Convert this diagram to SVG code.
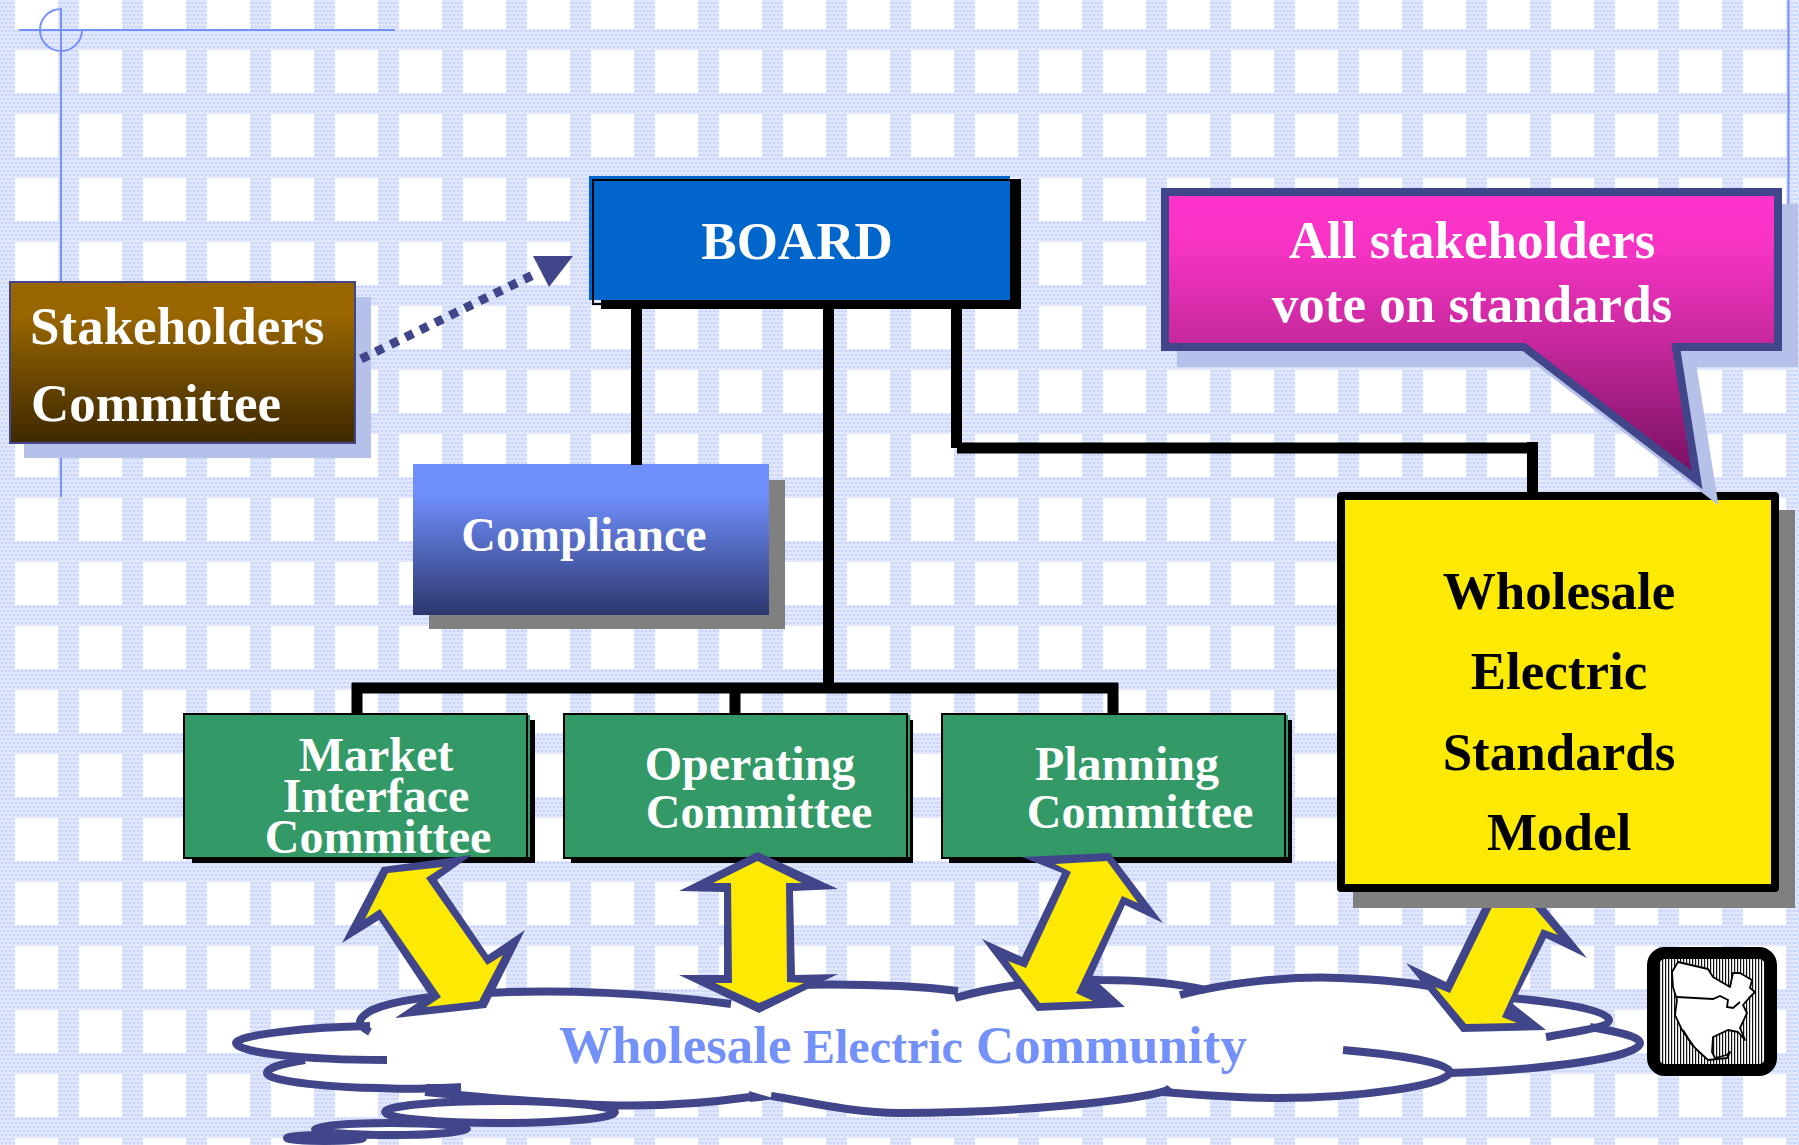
<svg xmlns="http://www.w3.org/2000/svg" width="1799" height="1145" viewBox="0 0 1799 1145">
<style>
text{font-family:"Liberation Serif","Times New Roman",serif;font-weight:bold}
.w{fill:#fff;font-size:53px}
.g{fill:#fff;font-size:48px}
.c{text-anchor:middle}
.k{fill:#000;font-size:53px;text-anchor:middle}
.bl{fill:none;stroke:#000;stroke-width:11}
.cl{fill:none;stroke:#404689;stroke-width:8}
.hair{fill:none;stroke:#7390fb;stroke-width:2}
.ao{fill:#404689}
.ai{fill:#fcea04}
.gb{fill:#339966}
.ol{fill:none;stroke:#000;stroke-width:2}
</style>
<defs>
<pattern id="weave" width="8" height="8" patternUnits="userSpaceOnUse" x="0" y="1">
<rect width="8" height="8" fill="#e9eefe"/>
<path d="M0,0L2,2L0,4L-2,2ZM8,0L10,2L8,4L6,2ZM4,0L6,2L4,4L2,2ZM2,4L4,6L2,8L0,6ZM6,4L8,6L6,8L4,6Z" fill="#c9d5fb"/>
</pattern>
<pattern id="holes" x="15" y="50" width="64" height="64" patternUnits="userSpaceOnUse">
<rect width="43" height="43" fill="#fff"/>
</pattern>
<pattern id="stripes" x="1659" y="0" width="3" height="10" patternUnits="userSpaceOnUse">
<rect width="3" height="10" fill="#fff"/><rect width="1.2" height="10" fill="#111"/>
</pattern>
<linearGradient id="brown" x1="0" y1="0" x2="0" y2="1"><stop offset="0" stop-color="#996600"/><stop offset=".2" stop-color="#996600"/><stop offset="1" stop-color="#3d2800"/></linearGradient>
<linearGradient id="blue" x1="0" y1="0" x2="0" y2="1"><stop offset="0" stop-color="#6f8ffc"/><stop offset=".2" stop-color="#6f8ffc"/><stop offset="1" stop-color="#2d376e"/></linearGradient>
<linearGradient id="pink" gradientUnits="userSpaceOnUse" x1="0" y1="196" x2="0" y2="480"><stop offset="0" stop-color="#ff33cc"/><stop offset=".18" stop-color="#f633c4"/><stop offset=".52" stop-color="#c5289b"/><stop offset="1" stop-color="#740f60"/></linearGradient>
</defs>

<g id="background">
<rect width="1799" height="1145" fill="url(#weave)"/>
<rect width="1799" height="1145" fill="url(#holes)"/>
<path class="hair" d="M19,30H395M61,8V497M1788.500,0V206M61,9A21,21 0 1 0 82,30"/>
</g>

<g id="cloud">
<path fill="#fff" d="M357,1022C370,1005 400,1000 428,998C470,992 530,990 579,992C640,993 690,997 731,1002L760,985C800,985 850,985 900,985L958,993C1000,985 1060,978 1100,980C1140,980 1180,984 1203,990C1240,980 1290,976 1340,978C1390,980 1440,986 1515,998C1560,1002 1609,1010 1609,1020L1591,1028C1620,1032 1640,1037 1640,1043C1640,1058 1540,1070 1453,1073C1430,1085 1360,1098 1279,1098C1240,1098 1200,1095 1167,1092C1140,1100 1020,1113 900,1113C850,1113 800,1100 771,1098L749,1098C700,1104 650,1107 602,1105C540,1103 480,1097 425,1092L379,1088C340,1088 267,1082 267,1073C267,1068 280,1064 305,1060C280,1056 236,1052 236,1043C236,1035 310,1027 370,1026Z"/>
<path class="cl" d="M370,1032C355,1024 358,1018 372,1010C395,1000 430,996 486,993C560,989 650,993 731,1004"/>
<path class="cl" d="M790,985C840,984 900,984 958,991"/>
<path class="cl" d="M955,998C1000,985 1060,978 1100,980C1140,980 1180,984 1205,990"/>
<path class="cl" d="M1180,995C1230,982 1290,976 1340,978C1390,980 1420,984 1440,988"/>
<path class="cl" d="M1500,997C1560,1002 1609,1010 1609,1020C1609,1027 1570,1033 1546,1037"/>
<path class="cl" d="M1590,1027C1620,1032 1640,1037 1640,1043C1640,1058 1540,1070 1450,1073"/>
<path class="cl" d="M1343,1050C1390,1054 1450,1062 1450,1072C1450,1085 1360,1098 1279,1098C1240,1098 1200,1095 1162,1092"/>
<path class="cl" d="M1168,1090C1140,1100 1020,1113 900,1113C850,1113 800,1100 771,1096"/>
<path class="ao" d="M1158,1094L1167,1085L1176,1092Z"/>
<path class="cl" d="M425,1092C480,1097 540,1103 602,1105C650,1107 700,1104 750,1097"/>
<path class="ao" d="M749,1091L776,1099L750,1102Z"/>
<path class="cl" d="M305,1060C280,1064 267,1068 267,1073C267,1082 340,1088 379,1088C410,1090 440,1088 461,1087"/>
<path class="ao" d="M425,1084H461V1092H440Z"/>
<path class="cl" d="M370,1026C310,1027 236,1035 236,1043C236,1052 300,1060 387,1060"/>
<ellipse class="cl" cx="500" cy="1112" rx="115" ry="11" fill="#fff" style="fill:#fff"/>
<ellipse class="cl" cx="391" cy="1129" rx="76" ry="6" style="fill:#fff"/>
<ellipse class="cl" cx="325" cy="1138" rx="38" ry="3" style="fill:#404689"/>
<text x="559" y="1063" fill="#7390fb" font-size="53">Wholesale <tspan x="803" font-size="48">Electric</tspan> <tspan x="976" font-size="53">Community</tspan></text>
</g>

<g id="stakeholders">
<rect x="24" y="297" width="347" height="161" fill="#b6c1ea"/>
<rect x="10" y="282" width="345" height="161" fill="url(#brown)" stroke="#404689" stroke-width="2"/>
<text class="w" x="30" y="344">Stakeholders</text>
<text class="w" x="31" y="421">Committee</text>
</g>

<g id="board">
<rect x="601" y="179" width="420" height="130" fill="#000"/>
<rect x="593" y="180" width="420" height="124" class="ol"/>
<rect x="589" y="176" width="421" height="124" fill="#0066cc"/>
<path class="ol" d="M593,300V180H1010"/>
<text class="w c" x="797" y="259">BOARD</text>
</g>

<g id="compliance">
<rect x="429" y="480" width="356" height="149" fill="#808080"/>
<rect x="413" y="464" width="356" height="151" fill="url(#blue)"/>
<text class="g c" x="584" y="551">Compliance</text>
</g>

<g id="market">
<rect x="192" y="720" width="343" height="143" fill="#000"/>
<rect class="gb" x="185" y="715" width="345" height="142"/>
<rect class="ol" x="184" y="714" width="343" height="144"/>
<text class="g c" x="376" y="771">Market</text>
<text class="g c" x="376" y="812">Interface</text>
<text class="g c" x="378" y="853">Committee</text>
</g>

<g id="operating">
<rect x="571" y="720" width="342" height="143" fill="#000"/>
<rect class="gb" x="565" y="715" width="345" height="142"/>
<rect class="ol" x="564" y="714" width="343" height="144"/>
<text class="g c" x="750" y="780">Operating</text>
<text class="g c" x="759" y="828">Committee</text>
</g>

<g id="planning">
<rect x="949" y="720" width="343" height="143" fill="#000"/>
<rect class="gb" x="943" y="715" width="345" height="142"/>
<rect class="ol" x="942" y="714" width="343" height="144"/>
<text class="g c" x="1127" y="780">Planning</text>
<text class="g c" x="1140" y="828">Committee</text>
</g>

<g id="connectors">
<path class="bl" d="M636.500,302V465"/>
<path class="bl" d="M828.500,302V690"/>
<path class="bl" d="M956.500,302V448"/>
<path class="bl" d="M957,448H1533"/>
<path class="bl" d="M1532.500,442V495"/>
<path class="bl" d="M352,688H1118"/>
<path class="bl" d="M357,683V715M735,683V715M1113,683V715"/>
<path d="M361,359L535,274" fill="none" stroke="#404689" stroke-width="9" stroke-dasharray="8.500 8"/>
<path class="ao" d="M533,256H573L549,287Z"/>
<g id="arrow-market">
<path class="ao" d="M472,855L382,867L342,943L379,920L429,995L395,1018L486,1008L525,930L488,955L437,880Z"/>
<path class="ai" d="M443,867L388,873L365,919L380,909L441,997L426,1007L479,1001L503,955L487,965L426,878Z"/>
</g>
<g id="arrow-operating">
<path class="ao" d="M757.500,852L679,891L724,892L724,975L679,975L759,1013L838,974L795,975L793,891L838,889Z"/>
<path class="ai" d="M757.500,861L713,883L731,883L732,983L715,983L759,1003L804,983L787,982L786,883L802,883Z"/>
</g>
<g id="arrow-planning">
<path class="ao" d="M1022,857L1110,853L1163,923L1125,905L1092,977L1125,1007L1037,1011L982,939L1022,957L1062,873Z"/>
<path class="ai" d="M1055,864L1107,861L1138,903L1122,896L1076,993L1093,1001L1040,1003L1008,961L1026,968L1071,872Z"/>
</g>
<g id="arrow-model">
<path class="ao" d="M1441,890H1531L1587,958L1546,938L1513,1004L1546,1030L1462,1032L1406,963L1446,982L1482,908Z"/>
<path class="ai" d="M1477,898H1526L1558,935L1542,929L1502,1017L1517,1023L1466,1024L1435,987L1450,993L1492,907Z"/>
</g>
</g>

<g id="model">
<rect x="1353" y="510" width="442" height="398" fill="#808080"/>
<rect x="1341" y="496" width="434" height="392" fill="#fcea04" stroke="#000" stroke-width="8" stroke-linejoin="round"/>
<text class="k" x="1559" y="609">Wholesale</text>
<text class="k" x="1559" y="689">Electric</text>
<text class="k" x="1559" y="770">Standards</text>
<text class="k" x="1559" y="850">Model</text>
</g>

<g id="callout">
<path d="M1181,208H1794V363H1692L1713,496L1540,363H1181Z" fill="#b6c1ea" stroke="#b6c1ea" stroke-width="8" stroke-miterlimit="20"/>
<path d="M1165,192H1778V347H1676L1697,480L1524,347H1165Z" fill="url(#pink)" stroke="#404689" stroke-width="8" stroke-miterlimit="20"/>
<text class="w c" x="1472" y="258">All stakeholders</text>
<text class="w c" x="1472" y="322">vote on standards</text>
</g>

<g id="map">
<rect x="1653" y="953" width="118" height="117" rx="12" fill="url(#stripes)" stroke="#000" stroke-width="12"/>
<path fill="#fff" stroke="#000" stroke-width="1.800" stroke-linejoin="round" d="M1672,972L1678,962L1708,969L1713,977L1730,987L1733,973L1740,973L1752,980L1750,988L1755,992L1749,998L1743,1005L1747,1013L1740,1028L1745,1040L1738,1032L1728,1030L1713,1037L1712,1052L1715,1058L1727,1055L1730,1052L1727,1058L1708,1060L1695,1048L1682,1030L1675,1015L1677,1000L1673,987Z"/>
<path fill="none" stroke="#000" stroke-width="1.800" d="M1677,997L1713,999L1720,996L1728,1000L1727,1007L1733,1008L1740,1002M1683,1030L1692,1045"/>
</g>
</svg>
